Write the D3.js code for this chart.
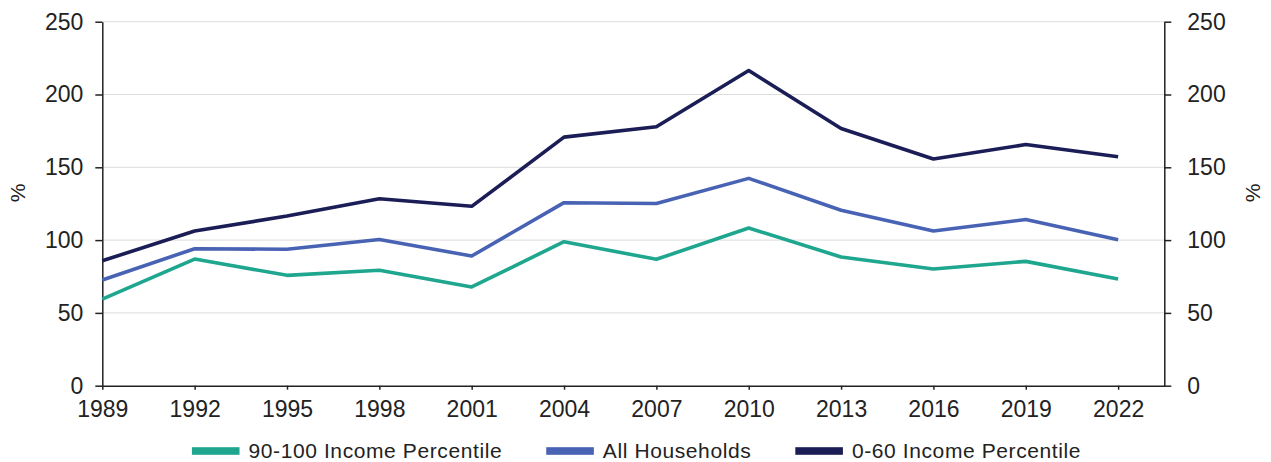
<!DOCTYPE html>
<html>
<head>
<meta charset="utf-8">
<script src="https://cdn.jsdelivr.net/npm/d3@7"></script>
<style>
  html, body { margin: 0; padding: 0; background: #fff; }
  svg { display: block; font-family: "Liberation Sans", Arial, sans-serif; }
</style>
</head>
<body>
<svg id="chart" width="1271" height="462"></svg>
<script>
// Survey years
const years = [1989, 1992, 1995, 1998, 2001, 2004, 2007, 2010, 2013, 2016, 2019, 2022];

// Ratio values (%) per income group
const top10 = [59.5, 87, 75.8, 79.3, 67.8, 98.9, 86.8, 108.3, 88.4, 80.1, 85.4, 73.3];
const allHouseholds = [72.6, 94.1, 93.7, 100.4, 89.1, 125.7, 125.1, 142.4, 120.5, 106.2, 114.1, 100.3];
const bottom60 = [85.8, 106.2, 116.5, 128.4, 123.2, 170.7, 177.9, 216.5, 176.7, 155.7, 165.6, 157.3];

const seriesNames = ["90-100 Income Percentile", "All Households", "0-60 Income Percentile"];
const seriesColors = ["#1fa68e", "#4863b4", "#1b1d56"];
const yTicks = [0, 50, 100, 150, 200, 250];

const series = [top10, allHouseholds, bottom60].map((vals, i) => ({
  name: seriesNames[i],
  color: seriesColors[i],
  points: years.map((yr, j) => ({ year: yr, value: vals[j] }))
}));

const svg = d3.select("#chart");
const plotLeft = 102.3, plotRight = 1164.3, plotTop = 21.7, plotBottom = 385.7;

const x = d3.scaleLinear().domain([1989, 2023.5]).range([plotLeft, plotRight]);
const y = d3.scaleLinear().domain([0, 250]).range([plotBottom, plotTop]);

// Horizontal gridlines
svg.append("g")
  .selectAll("line")
  .data(yTicks.filter(d => d > 0))
  .join("line")
  .attr("x1", plotLeft).attr("x2", plotRight)
  .attr("y1", d => y(d)).attr("y2", d => y(d))
  .attr("stroke", "#dcdcdc").attr("stroke-width", 1);

const styleAxis = g => {
  g.select(".domain").attr("stroke", "#222").attr("stroke-width", 1.5);
  g.selectAll(".tick line").attr("stroke", "#222").attr("stroke-width", 1.5);
  g.selectAll(".tick text").attr("fill", "#222").attr("font-size", 23);
};

// Left axis
svg.append("g")
  .attr("transform", `translate(${plotLeft},0)`)
  .call(d3.axisLeft(y).tickValues(yTicks).tickSize(7).tickPadding(12).tickSizeOuter(0))
  .call(styleAxis);

// Right axis
svg.append("g")
  .attr("transform", `translate(${plotRight},0)`)
  .call(d3.axisRight(y).tickValues(yTicks).tickSize(7).tickPadding(16).tickSizeOuter(0))
  .call(styleAxis);

// Bottom axis
svg.append("g")
  .attr("transform", `translate(0,${plotBottom})`)
  .call(d3.axisBottom(x).tickValues(years).tickFormat(d3.format("d")).tickSize(4).tickPadding(11).tickSizeOuter(0))
  .call(styleAxis);

// Axis unit labels
svg.append("text")
  .attr("transform", `translate(25,193) rotate(-90)`)
  .attr("text-anchor", "middle")
  .attr("font-size", 21).attr("fill", "#222")
  .text("%");
svg.append("text")
  .attr("transform", `translate(1260,193) rotate(-90)`)
  .attr("text-anchor", "middle")
  .attr("font-size", 21).attr("fill", "#222")
  .text("%");

// Lines
const line = d3.line().x(d => x(d.year)).y(d => y(d.value));
svg.append("g")
  .selectAll("path")
  .data(series)
  .join("path")
  .attr("d", d => line(d.points))
  .attr("fill", "none")
  .attr("stroke", d => d.color)
  .attr("stroke-width", 3.6)
  .attr("stroke-linejoin", "round");

// Legend
const legend = svg.append("g");
const swatchW = 47.6, swatchH = 7.6, textGap = 9, itemGap = 44, legendY = 451;
let cursor = 0;
series.forEach(s => {
  const item = legend.append("g").attr("transform", `translate(${cursor},0)`);
  item.append("rect")
    .attr("x", 0).attr("y", legendY - swatchH / 2)
    .attr("width", swatchW).attr("height", swatchH)
    .attr("fill", s.color);
  const t = item.append("text")
    .attr("x", swatchW + textGap).attr("y", legendY)
    .attr("dy", "0.35em")
    .attr("font-size", 21).attr("letter-spacing", 0.6).attr("fill", "#222")
    .text(s.name);
  cursor += swatchW + textGap + t.node().getBBox().width + itemGap;
});
const legendWidth = cursor - itemGap;
legend.attr("transform", `translate(${(1271 - legendWidth) / 2 + 1},0)`);
</script>
</body>
</html>
